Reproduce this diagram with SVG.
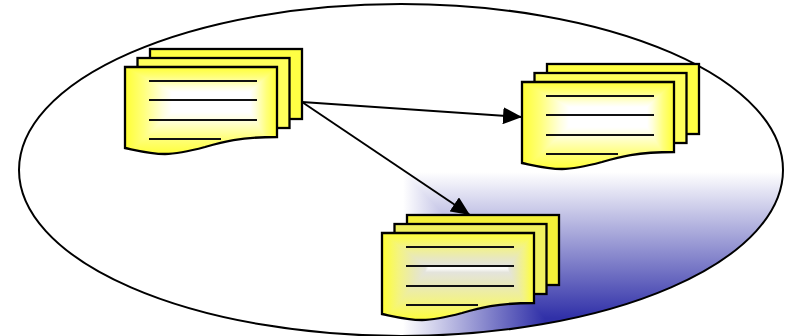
<svg xmlns="http://www.w3.org/2000/svg" xmlns:xlink="http://www.w3.org/1999/xlink" width="785" height="336" viewBox="0 0 785 336">
<style>
.o{fill:none;stroke:#000;stroke-width:2.300}
.l{stroke:#111;stroke-width:2.200;fill:none}
.r{stroke:#000;stroke-width:2.300}
.c{stroke:#000;stroke-width:2;fill:none;marker-end:url(#ah)}
.s{shape-rendering:crispEdges}
</style>
<defs>
<marker id="ah" markerUnits="userSpaceOnUse" markerWidth="19" markerHeight="17" refX="19" refY="8.500" orient="auto"><path d="M0 0L19 8.500L0 17z" fill="#000"/></marker>
<linearGradient id="sBg"><stop offset="0" stop-color="#fff"/><stop offset="1" stop-color="#3030a8"/></linearGradient>
<linearGradient id="bT" href="#sBg" gradientUnits="userSpaceOnUse" x1="0" y1="172" x2="0" y2="318"/>
<linearGradient id="bL" href="#sBg" gradientUnits="userSpaceOnUse" x1="403" y1="0" x2="545" y2="0"/>
<linearGradient id="sA"><stop offset="0" stop-color="#ffff33"/><stop offset=".4" stop-color="#ffff7c"/><stop offset=".8" stop-color="#ffffdc"/><stop offset="1" stop-color="#fff"/></linearGradient>
<linearGradient id="sB"><stop offset="0" stop-color="#ffff33"/><stop offset=".35" stop-color="#f4f480"/><stop offset=".7" stop-color="#e8e8bc"/><stop offset=".92" stop-color="#e4e4dc"/><stop offset="1" stop-color="#fff"/></linearGradient>
<linearGradient id="aT" href="#sA" gradientUnits="userSpaceOnUse" x1="0" y1="67" x2="0" y2="92"/>
<linearGradient id="aL" href="#sA" gradientUnits="userSpaceOnUse" x1="125" y1="0" x2="172" y2="0"/>
<linearGradient id="aR" href="#sA" gradientUnits="userSpaceOnUse" x1="277" y1="0" x2="250" y2="0"/>
<linearGradient id="aB" href="#sA" gradientUnits="userSpaceOnUse" x1="0" y1="156" x2="0" y2="112"/>
<linearGradient id="cT" href="#sB" gradientUnits="userSpaceOnUse" x1="0" y1="67" x2="0" y2="102"/>
<linearGradient id="cL" href="#sB" gradientUnits="userSpaceOnUse" x1="125" y1="0" x2="172" y2="0"/>
<linearGradient id="cR" href="#sB" gradientUnits="userSpaceOnUse" x1="277" y1="0" x2="250" y2="0"/>
<linearGradient id="cB" href="#sB" gradientUnits="userSpaceOnUse" x1="0" y1="156" x2="0" y2="102"/>
<clipPath id="ellClip"><ellipse cx="401" cy="170" rx="382" ry="166"/></clipPath>
<clipPath id="docClip"><path d="M125 67H277V137C240 137 222 142 205 147C190 151 178 154 165 154C150 154 135 150 125 148Z"/></clipPath>
<g id="fA" clip-path="url(#docClip)" class="s">
<rect x="172" y="92" width="78" height="20" fill="#fff"/>
<polygon points="125,67 277,67 250,92 172,92" fill="url(#aT)"/>
<polygon points="125,67 125,156 172,112 172,92" fill="url(#aL)"/>
<polygon points="277,67 277,156 250,112 250,92" fill="url(#aR)"/>
<polygon points="125,156 277,156 250,112 172,112" fill="url(#aB)"/>
</g>
<g id="fC" clip-path="url(#docClip)" class="s">
<polygon points="125,67 277,67 250,102 172,102" fill="url(#cT)"/>
<polygon points="125,67 125,156 172,102" fill="url(#cL)"/>
<polygon points="277,67 277,156 250,102" fill="url(#cR)"/>
<polygon points="125,156 277,156 250,102 172,102" fill="url(#cB)"/>
</g>
<g id="top">
<path class="o" d="M125 67H277V137C240 137 222 142 205 147C190 151 178 154 165 154C150 154 135 150 125 148Z"/>
<path class="l" d="M149 81H257M149 100H257M149 120H257M149 139H221"/>
</g>
</defs>
<g id="background">
<ellipse cx="401" cy="170" rx="382" ry="166" fill="#fff"/>
<g clip-path="url(#ellClip)" class="s">
<polygon points="403,172 790,172 790,340 545,340 545,318" fill="url(#bT)"/>
<polygon points="403,172 403,340 545,340 545,318" fill="url(#bL)"/>
</g>
<ellipse fill="none" stroke="#000" stroke-width="2" cx="401" cy="170" rx="382" ry="166"/>
</g>
<g id="doc-source">
<rect class="r" x="150" y="49" width="152" height="70" fill="#ffff44"/>
<rect class="r" x="137.500" y="58" width="152" height="70" fill="#ffff5c"/>
<use href="#fA"/><use href="#top"/>
</g>
<g id="doc-right" transform="translate(397 15)">
<rect class="r" x="150" y="49" width="152" height="70" fill="#ffff44"/>
<rect class="r" x="137.500" y="58" width="152" height="70" fill="#ffff5c"/>
<use href="#fA"/><use href="#top"/>
</g>
<g id="doc-bottom" transform="translate(257 166)">
<rect class="r" x="150" y="49" width="152" height="70" fill="#f4f038"/>
<rect class="r" x="137.500" y="58" width="152" height="70" fill="#f0f060"/>
<use href="#fC"/><use href="#top"/>
</g>
<g id="connectors">
<path class="c" d="M302 102L522 117"/>
<path class="c" d="M302 102L470 215"/>
</g>
</svg>
